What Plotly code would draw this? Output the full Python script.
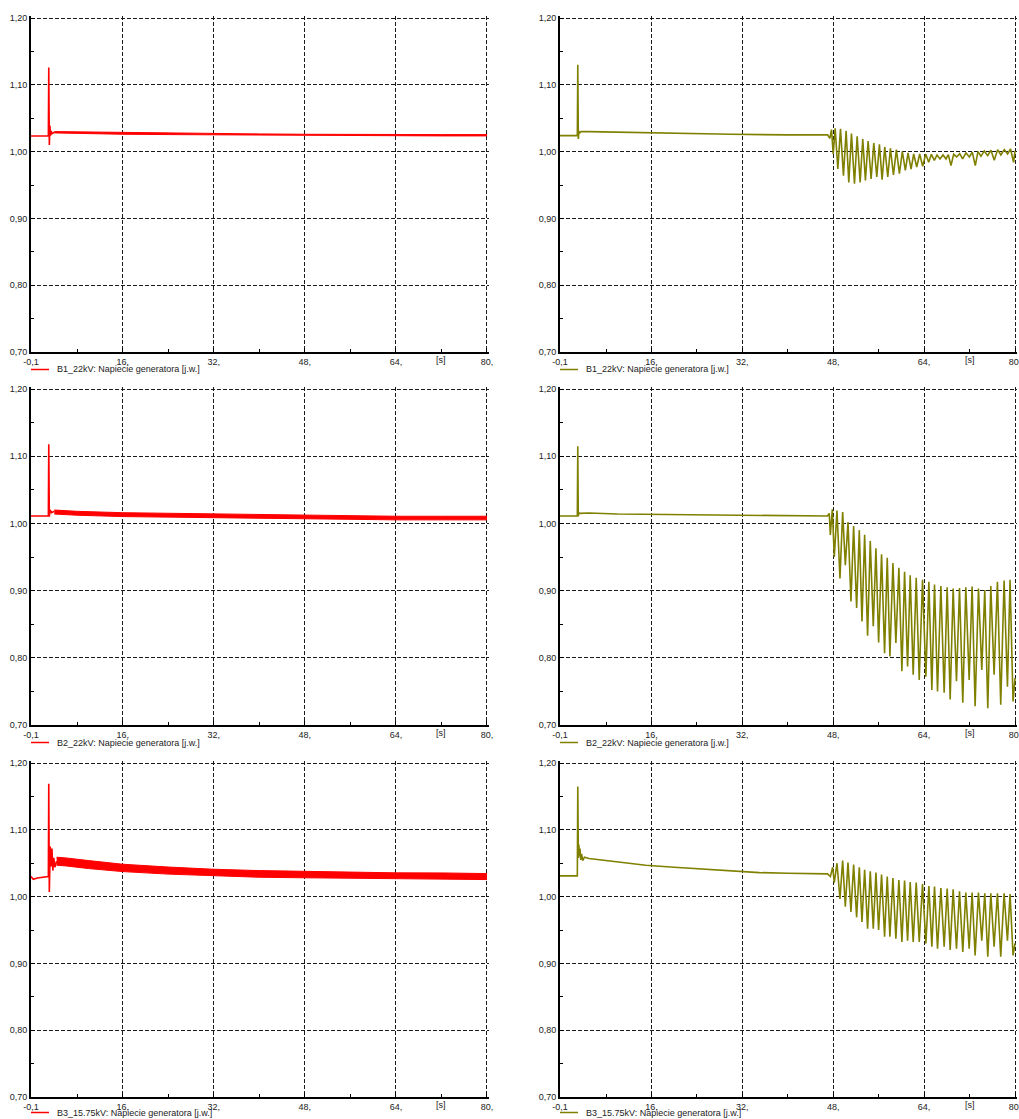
import plotly.graph_objects as go

# ---------------- axis ticks ----------------
X_TICKS = [-0.1, 16, 32, 48, 64, 80]
X_TICK_TEXT = ["-0,1", "16,", "32,", "48,", "64,", "80,"]
X_MINOR = [8, 24, 40, 56, 72]
Y_TICKS = [0.70, 0.80, 0.90, 1.00, 1.10, 1.20]
Y_TICK_TEXT = ["0,70", "0,80", "0,90", "1,00", "1,10", "1,20"]
Y_MINOR = [0.75, 0.85, 0.95, 1.05, 1.15]

LEGEND_TEXT = ["B1_22kV: Napiecie generatora [j.w.]",
               "B2_22kV: Napiecie generatora [j.w.]",
               "B3_15.75kV: Napiecie generatora [j.w.]"]

# ---------------- left column (red) ----------------
# fault transient part
B1_L_t = [-0.1, 2.95, 3.02, 3.12, 3.22, 3.32, 3.45, 3.6, 4.0]
B1_L_v = [1.0233, 1.0233, 1.126, 1.010, 1.039, 1.024, 1.031, 1.027, 1.029]
# fast-oscillation band (upper / lower envelope)
B1_L_band_t = [4.0, 8, 16, 24, 32, 40, 48, 56, 64, 72, 80]
B1_L_band_hi = [1.0300, 1.0295, 1.0285, 1.0275, 1.0270, 1.0265, 1.0260, 1.0255, 1.0255, 1.0255, 1.0255]
B1_L_band_lo = [1.0280, 1.0270, 1.0260, 1.0255, 1.0250, 1.0245, 1.0240, 1.0235, 1.0235, 1.0235, 1.0235]

B2_L_t = [-0.1, 2.95, 3.02, 3.12, 3.25, 3.5, 4.0]
B2_L_v = [1.011, 1.011, 1.118, 1.010, 1.020, 1.016, 1.018]
B2_L_band_t = [4.0, 8, 16, 24, 32, 40, 48, 56, 64, 72, 80]
B2_L_band_hi = [1.0200, 1.0180, 1.0160, 1.0150, 1.0138, 1.0128, 1.0118, 1.0112, 1.0107, 1.0107, 1.0107]
B2_L_band_lo = [1.0140, 1.0122, 1.0102, 1.0092, 1.0084, 1.0074, 1.0064, 1.0058, 1.0053, 1.0053, 1.0053]

B3_L_t = [-0.1, 0.3, 1.0, 2.95, 3.02, 3.12, 3.28, 3.42, 3.58, 3.74, 3.9, 4.1, 4.4]
B3_L_v = [1.030, 1.026, 1.028, 1.030, 1.169, 1.007, 1.075, 1.045, 1.072, 1.039, 1.058, 1.044, 1.053]
B3_L_band_t = [4.4, 6, 10, 16, 24, 32, 40, 48, 56, 64, 72, 80]
B3_L_band_hi = [1.059, 1.058, 1.054, 1.0485, 1.0443, 1.041, 1.039, 1.0378, 1.0366, 1.0356, 1.0355, 1.0345]
B3_L_band_lo = [1.047, 1.046, 1.042, 1.0375, 1.0337, 1.031, 1.029, 1.0282, 1.0274, 1.0264, 1.0265, 1.0255]

# ---------------- right column (olive) ----------------
B1_R_pre_t = [-0.1, 2.95, 3.03, 3.13, 3.22, 3.35, 3.6, 5, 10, 20, 30, 40, 47.0, 47.4, 47.7, 48.0]
B1_R_pre_v = [1.024, 1.024, 1.130, 1.019, 1.031, 1.028, 1.030, 1.030, 1.029, 1.027, 1.026, 1.025, 1.025, 1.020, 1.033, 0.996]
B1_R_peak_t = [48.34, 49.28, 50.27, 51.21, 52.21, 53.20, 54.14, 55.14, 56.13, 57.07, 58.07, 59.12, 60.17, 61.17, 62.17, 63.22,
               64.28, 65.28, 66.27, 67.33, 68.26, 69.20, 70.26, 71.37, 72.48, 73.48, 74.60, 75.77, 76.94, 78.11, 79.22]
B1_R_peak_v = [1.035, 1.034, 1.031, 1.027, 1.023, 1.019, 1.016, 1.013, 1.011, 1.007, 1.005, 1.003, 1.000, 0.998, 0.9965, 0.9965,
               0.9965, 0.996, 0.995, 0.995, 0.9955, 0.996, 0.997, 0.998, 0.999, 1.000, 1.001, 1.002, 1.003, 1.003, 1.004]
B1_R_trough_t = [48.81, 49.80, 50.74, 51.74, 52.74, 53.67, 54.67, 55.67, 56.60, 57.60, 58.60, 59.65, 60.70, 61.70, 62.70, 63.75,
                 64.81, 65.80, 66.80, 67.85, 68.73, 69.73, 70.78, 71.96, 73.01, 74.01, 75.18, 76.35, 77.52, 78.70, 79.75]
B1_R_trough_v = [0.974, 0.964, 0.954, 0.952, 0.954, 0.957, 0.959, 0.962, 0.958, 0.962, 0.965, 0.967, 0.972, 0.974, 0.977, 0.978,
                 0.984, 0.987, 0.989, 0.989, 0.979, 0.992, 0.989, 0.992, 0.979, 0.993, 0.994, 0.987, 0.995, 0.9965, 0.984]
B1_R_end_t = [80.0]
B1_R_end_v = [1.001]

B2_R_pre_t = [-0.1, 2.95, 3.03, 3.12, 3.2, 3.4, 5, 10, 20, 30, 40, 45, 47.0, 47.3, 47.49]
B2_R_pre_v = [1.011, 1.011, 1.115, 1.0105, 1.016, 1.015, 1.0155, 1.014, 1.013, 1.012, 1.012, 1.0115, 1.011, 1.015, 0.983]
B2_R_peak_t = [47.84, 48.66, 49.66, 50.60, 51.59, 52.59, 53.53, 54.52, 55.52, 56.51, 57.51, 58.51, 59.56, 60.56, 61.55, 62.61,
               63.72, 64.84, 65.83, 66.95, 68.06, 69.11, 70.23, 71.34, 72.45, 73.57, 74.68, 75.74, 76.91, 78.08, 79.13]
B2_R_peak_v = [1.021, 1.019, 1.017, 1.002, 0.996, 0.990, 0.983, 0.974, 0.963, 0.954, 0.949, 0.941, 0.934, 0.928, 0.923, 0.919,
               0.916, 0.913, 0.909, 0.907, 0.905, 0.903, 0.904, 0.905, 0.906, 0.903, 0.901, 0.907, 0.913, 0.915, 0.916]
B2_R_trough_t = [48.19, 49.19, 50.13, 51.12, 52.12, 53.06, 54.05, 55.05, 55.99, 57.04, 57.98, 59.03, 60.09, 61.09, 62.08, 63.14,
                 64.31, 65.36, 66.36, 67.53, 68.59, 69.70, 70.81, 71.93, 72.98, 74.15, 75.21, 76.32, 77.49, 78.67, 79.66]
B2_R_trough_v = [0.950, 0.918, 0.938, 0.884, 0.874, 0.854, 0.833, 0.847, 0.823, 0.807, 0.802, 0.822, 0.780, 0.787, 0.775, 0.767,
                 0.772, 0.752, 0.750, 0.748, 0.738, 0.765, 0.733, 0.767, 0.728, 0.782, 0.725, 0.775, 0.730, 0.757, 0.735]
B2_R_end_t = [80.0]
B2_R_end_v = [0.770]

B3_R_pre_t = [-0.1, 2.95, 3.03, 3.13, 3.22, 3.32, 3.42, 3.55, 3.7, 3.9, 4.2, 5, 10, 15, 20, 25, 30, 35, 40, 45, 47.0,
              47.5, 47.9, 48.19]
B3_R_pre_v = [1.031, 1.031, 1.165, 1.058, 1.078, 1.060, 1.072, 1.055, 1.064, 1.054, 1.059, 1.057, 1.052, 1.047, 1.044, 1.041,
              1.038, 1.036, 1.035, 1.034, 1.034, 1.030, 1.044, 1.021]
B3_R_peak_t = [48.66, 49.66, 50.60, 51.59, 52.59, 53.53, 54.52, 55.52, 56.51, 57.51, 58.51, 59.56, 60.56, 61.55, 62.61,
               63.72, 64.84, 65.83, 66.95, 68.06, 69.11, 70.23, 71.34, 72.45, 73.57, 74.68, 75.74, 76.91, 78.08, 79.13]
B3_R_peak_v = [1.050, 1.054, 1.051, 1.048, 1.044, 1.040, 1.038, 1.036, 1.033, 1.030, 1.028, 1.025, 1.024, 1.022, 1.021,
               1.019, 1.016, 1.015, 1.013, 1.012, 1.011, 1.008, 1.006, 1.006, 1.006, 1.005, 1.005, 1.005, 1.005, 1.004]
B3_R_trough_t = [49.19, 50.13, 51.12, 52.12, 53.06, 54.05, 55.05, 55.99, 57.04, 57.98, 59.03, 60.09, 61.09, 62.08, 63.14,
                 64.31, 65.36, 66.36, 67.53, 68.59, 69.70, 70.81, 71.93, 72.98, 74.15, 75.21, 76.32, 77.49, 78.67, 79.66]
B3_R_trough_v = [0.9965, 0.985, 0.977, 0.969, 0.962, 0.952, 0.952, 0.950, 0.940, 0.940, 0.937, 0.932, 0.934, 0.932, 0.932,
                 0.930, 0.925, 0.922, 0.925, 0.920, 0.922, 0.917, 0.922, 0.912, 0.934, 0.910, 0.925, 0.910, 0.934, 0.912]
B3_R_end_t = [80.0]
B3_R_end_v = [0.930]

# ---------------- styling ----------------
RED = "#ff0000"
OLIVE = "#808000"
FONT = "Liberation Sans, Arial, sans-serif"
W, H = 1019, 1119

X_RANGE = [-0.1, 80.3]     # small pad so the dashed grid line at 80 stays visible
Y_RANGE = [0.70, 1.2035]   # small pad so the dashed grid line at 1.20 stays visible


def px_x(p):
    return p / W


def px_y(p):
    return 1 - p / H


X_DOMAINS = [[px_x(31), px_x(488.7)], [px_x(560), px_x(1016.7)]]
Y_DOMAINS = [[px_y(352), px_y(15.7)], [px_y(725), px_y(386.7)], [px_y(1097), px_y(760.7)]]
LEGEND_Y = [369.5, 742.5, 1112.5]


def interleave(pt, pv, tt, tv):
    xs, ys = [], []
    for a, b, c, d in zip(pt, pv, tt, tv):
        xs += [a, c]
        ys += [b, d]
    return xs, ys


fig = go.Figure()

left_sets = [
    (B1_L_t, B1_L_v, B1_L_band_t, B1_L_band_hi, B1_L_band_lo),
    (B2_L_t, B2_L_v, B2_L_band_t, B2_L_band_hi, B2_L_band_lo),
    (B3_L_t, B3_L_v, B3_L_band_t, B3_L_band_hi, B3_L_band_lo),
]
right_sets = [
    (B1_R_pre_t, B1_R_pre_v, B1_R_peak_t, B1_R_peak_v, B1_R_trough_t, B1_R_trough_v, B1_R_end_t, B1_R_end_v),
    (B2_R_pre_t, B2_R_pre_v, B2_R_peak_t, B2_R_peak_v, B2_R_trough_t, B2_R_trough_v, B2_R_end_t, B2_R_end_v),
    (B3_R_pre_t, B3_R_pre_v, B3_R_peak_t, B3_R_peak_v, B3_R_trough_t, B3_R_trough_v, B3_R_end_t, B3_R_end_v),
]

layout_axes = {}
shapes = []
annotations = []

for row in range(3):
    for col in range(2):
        idx = row * 2 + col + 1
        xa = "x" if idx == 1 else f"x{idx}"
        ya = "y" if idx == 1 else f"y{idx}"
        if col == 0:
            t, v, bt, bhi, blo = left_sets[row]
            fig.add_trace(go.Scatter(x=bt, y=blo, mode="lines", line=dict(color=RED, width=1),
                                     xaxis=xa, yaxis=ya, showlegend=False, hoverinfo="skip"))
            fig.add_trace(go.Scatter(x=bt, y=bhi, mode="lines", line=dict(color=RED, width=1),
                                     fill="tonexty", fillcolor=RED,
                                     xaxis=xa, yaxis=ya, showlegend=False, hoverinfo="skip"))
            fig.add_trace(go.Scatter(x=t, y=v, mode="lines", line=dict(color=RED, width=1.6),
                                     xaxis=xa, yaxis=ya, showlegend=False))
            color = RED
        else:
            pt, pv, kt, kv, tt, tv, et, ev = right_sets[row]
            ox, oy = interleave(kt, kv, tt, tv)
            fig.add_trace(go.Scatter(x=pt + ox + et, y=pv + oy + ev, mode="lines",
                                     line=dict(color=OLIVE, width=1.6),
                                     xaxis=xa, yaxis=ya, showlegend=False))
            color = OLIVE

        tickfont = dict(family=FONT, size=9, color="#222")
        layout_axes["xaxis" if idx == 1 else f"xaxis{idx}"] = dict(
            domain=X_DOMAINS[col], anchor=ya, range=X_RANGE, automargin=False,
            tickmode="array", tickvals=X_TICKS, ticktext=X_TICK_TEXT,
            showgrid=True, gridcolor="#1a1a1a", griddash="4px,2px", gridwidth=1,
            showline=True, linecolor="black", linewidth=2, zeroline=False,
            ticks="inside", ticklen=4, tickcolor="black", tickwidth=1,
            minor=dict(tickvals=X_MINOR, ticks="inside", ticklen=3, tickcolor="black", showgrid=False),
            tickfont=tickfont, fixedrange=True, ticklabeloverflow="allow",
        )
        layout_axes["yaxis" if idx == 1 else f"yaxis{idx}"] = dict(
            domain=Y_DOMAINS[row], anchor=xa, range=Y_RANGE, automargin=False,
            tickmode="array", tickvals=Y_TICKS, ticktext=Y_TICK_TEXT,
            showgrid=True, gridcolor="#1a1a1a", griddash="4px,2px", gridwidth=1,
            showline=True, linecolor="black", linewidth=2, zeroline=False,
            ticks="inside", ticklen=4, tickcolor="black", tickwidth=1,
            minor=dict(tickvals=Y_MINOR, ticks="inside", ticklen=3, tickcolor="black", showgrid=False),
            tickfont=tickfont, fixedrange=True,
        )
        # "[s]" unit label
        annotations.append(dict(text="[s]", x=72, xref=xa, y=0, yref=f"{ya} domain",
                                yanchor="top", xanchor="center", yshift=-1, showarrow=False,
                                font=dict(family=FONT, size=9, color="#222")))
        # legend sample and text
        lx0 = 31 if col == 0 else 560
        ly = LEGEND_Y[row]
        shapes.append(dict(type="line", xref="paper", yref="paper",
                           x0=px_x(lx0), x1=px_x(lx0 + 18), y0=px_y(ly), y1=px_y(ly),
                           line=dict(color=color, width=1.5)))
        annotations.append(dict(text=LEGEND_TEXT[row], xref="paper", yref="paper",
                                x=px_x(lx0 + 24), y=px_y(ly), xanchor="left", yanchor="middle",
                                showarrow=False, font=dict(family=FONT, size=9, color="#222")))

fig.update_layout(
    width=W, height=H, autosize=False,
    margin=dict(l=0, r=0, t=0, b=0, autoexpand=False),
    paper_bgcolor="white", plot_bgcolor="white",
    showlegend=False,
    shapes=shapes, annotations=annotations,
    **layout_axes,
)

fig.write_html("out.html",
               config={"displayModeBar": False},
               post_script="document.body.style.margin='0px';document.body.style.padding='0px';")
